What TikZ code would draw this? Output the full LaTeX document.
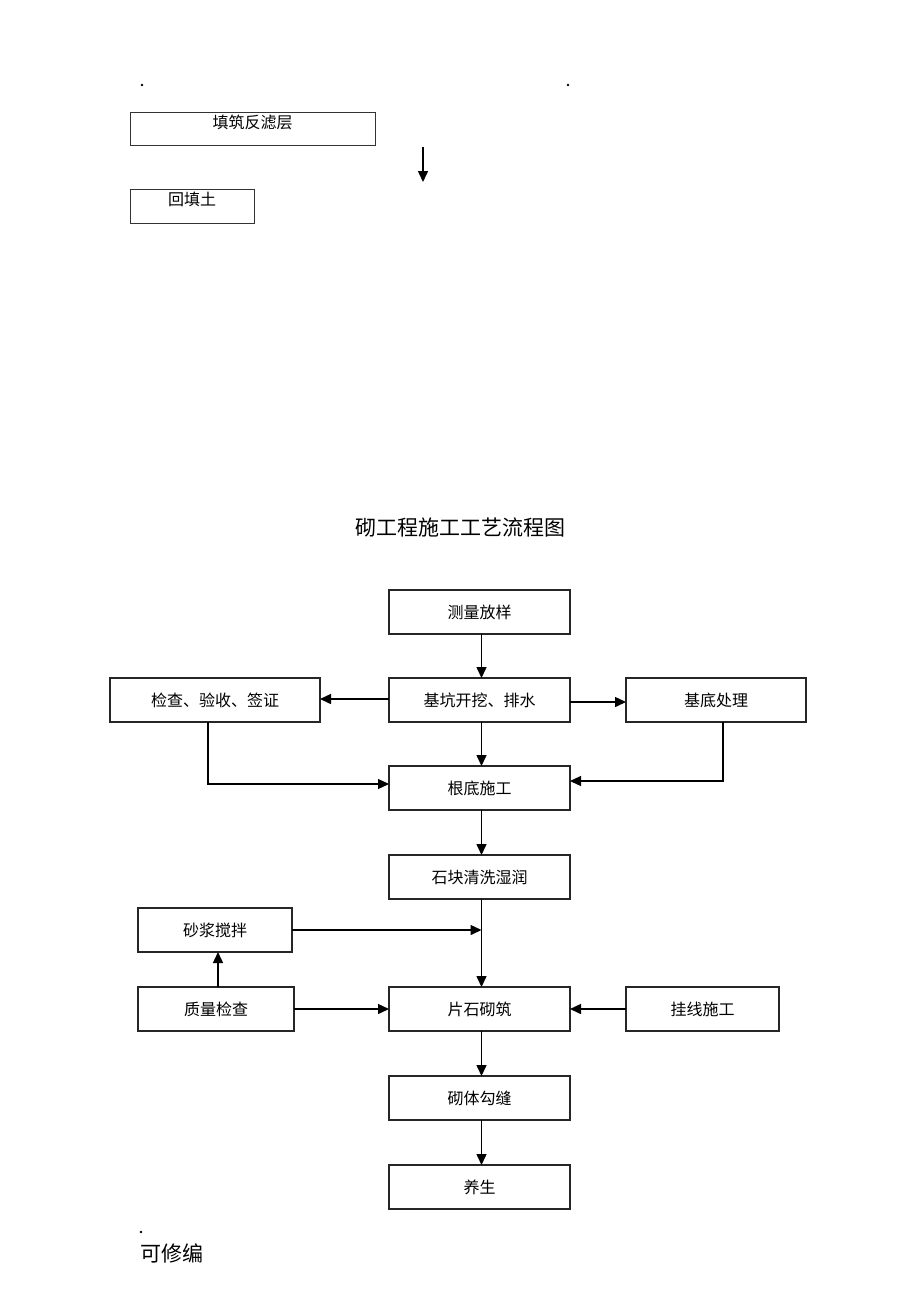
\documentclass[tikz,border=0pt]{standalone}
\usepackage{fontspec}
\newfontfamily\cjk{Noto Sans CJK SC}
\usetikzlibrary{arrows.meta}
\begin{document}
\begin{tikzpicture}[x=1pt,y=-1pt,
 box/.style={draw=black!85, line width=1.4pt, minimum height=44pt, inner sep=0pt, outer sep=0pt, font=\cjk\fontsize{16}{16}\selectfont},
 topbox/.style={draw=black!80, line width=0.9pt, inner sep=0pt, outer sep=0pt, anchor=north west},
 toptext/.style={font=\cjk\fontsize{16}{16}\selectfont, inner sep=0pt},
 arr/.style={line width=1.5pt, -{Triangle[length=11pt,width=10pt]}}]
\useasboundingbox (0,0) rectangle (920,1302);
% top fragment
\fill (142,85) circle (1.3pt);
\fill (568,85) circle (1.3pt);
\node[topbox, minimum width=245pt, minimum height=33pt] (fzbox) at (130,112) {};
\node[toptext] (fz) at (252.5,122) {填筑反滤层};
\coordinate (ta) at (423,147);
\coordinate (tb) at (423,182);
\draw[arr] (ta) -- (tb);
\node[topbox, minimum width=124pt, minimum height=34pt] (htbox) at (130,189) {};
\node[toptext] (ht) at (192,199) {回填土};
% title
\node[font=\cjk\fontsize{21}{21}\selectfont, inner sep=0pt] (title) at (460,528) {砌工程施工工艺流程图};
% boxes
\node[box, minimum width=181pt] (m) at (479.5,612) {测量放样};
\node[box, minimum width=181pt] (k) at (479.5,700) {基坑开挖、排水};
\node[box, minimum width=210pt] (j) at (215,700) {检查、验收、签证};
\node[box, minimum width=180pt] (d) at (716,700) {基底处理};
\node[box, minimum width=181pt] (g) at (479.5,788) {根底施工};
\node[box, minimum width=181pt] (s) at (479.5,877) {石块清洗湿润};
\node[box, minimum width=154pt] (sj) at (215,930) {砂浆搅拌};
\node[box, minimum width=156pt] (q) at (216,1009) {质量检查};
\node[box, minimum width=181pt] (p) at (479.5,1009) {片石砌筑};
\node[box, minimum width=153pt] (gx) at (702.5,1009) {挂线施工};
\node[box, minimum width=181pt] (qf) at (479.5,1098) {砌体勾缝};
\node[box, minimum width=181pt] (y) at (479.5,1187) {养生};
% connectors
\draw[arr] ([xshift=2pt]m.south) -- ([xshift=2pt]k.north);
\draw[arr] ([yshift=1pt]k.west) -- ([yshift=1pt]j.east);
\draw[arr] ([yshift=-2pt]k.east) -- ([yshift=-2pt]d.west);
\draw[arr] ([xshift=2pt]k.south) -- ([xshift=2pt]g.north);
\draw[arr, line width=1.2pt] ([xshift=-7pt]j.south) |- ([yshift=4pt]g.west);
\draw[arr, line width=1.2pt] ([xshift=7pt]d.south) |- ([yshift=7pt]g.east);
\draw[arr] ([xshift=2pt]g.south) -- ([xshift=2pt]s.north);
\draw[arr] ([xshift=2pt]s.south) -- ([xshift=2pt]p.north);
\coordinate (sjm) at ([xshift=2pt]sj.east -| s.south);
\draw[arr] (sj.east) -- (sjm);
\draw[arr] ([xshift=2pt]q.north) -- ([xshift=2pt]q.north |- sj.south);
\draw[arr] (q.east) -- (p.west);
\draw[arr] (gx.west) -- (p.east);
\draw[arr] ([xshift=2pt]p.south) -- ([xshift=2pt]qf.north);
\draw[arr] ([xshift=2pt]qf.south) -- ([xshift=2pt]y.north);
% footer
\fill (141,1232) circle (1.3pt);
\node[font=\cjk\fontsize{21}{21}\selectfont, inner sep=0pt, anchor=west] (xb) at (140,1253) {可修编};
\end{tikzpicture}
\end{document}
